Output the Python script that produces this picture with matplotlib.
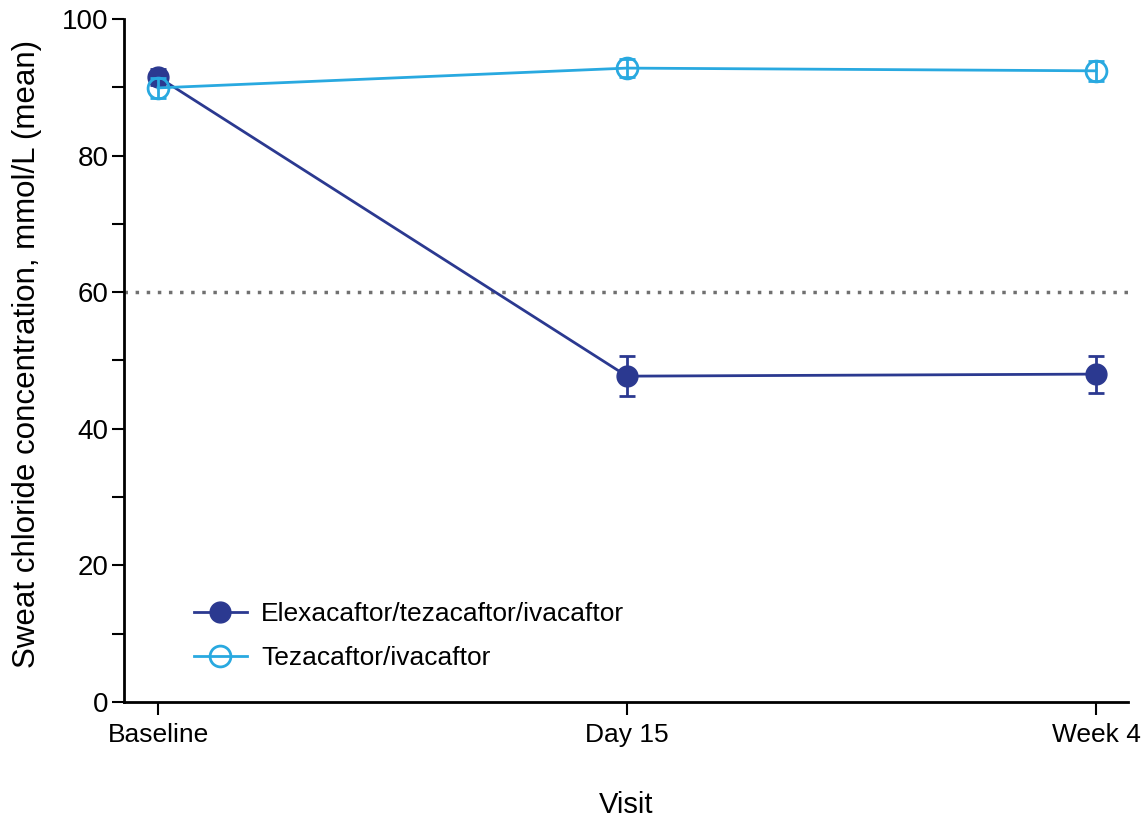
import matplotlib
matplotlib.use("Agg")
import matplotlib.pyplot as plt
from matplotlib.lines import Line2D

plt.rcParams['font.family'] = ['Liberation Sans', 'DejaVu Sans']

visits = ['Baseline', 'Day 15', 'Week 4']
eti_mean = [91.5, 47.7, 48.0]
eti_err = [1.2, 2.9, 2.7]
ti_mean = [89.9, 92.8, 92.4]
ti_err = [1.5, 1.3, 1.5]
threshold = 60

navy = '#2B3990'
sky = '#29A9E0'

fig = plt.figure(figsize=(11.42, 8.19), dpi=100)
ax = fig.add_axes([0.1086, 0.1429, 0.879, 0.834])

x = list(range(len(visits)))
ax.axhline(threshold, color='#707070', linestyle=(0, (1, 2.2)), linewidth=2.5, zorder=1)

ax.errorbar(x, eti_mean, yerr=eti_err, color=navy, marker='o', markersize=15,
            linewidth=2, capsize=6, capthick=2, elinewidth=2, zorder=3)
ax.errorbar(x, ti_mean, yerr=ti_err, color=sky, marker='o', markersize=15,
            markerfacecolor='none', markeredgewidth=2, linewidth=2, capsize=6,
            capthick=2, elinewidth=2, zorder=4)

ax.set_xlim(-0.0725, 2.068)
ax.set_ylim(0, 100)
ax.set_xticks(x)
ax.set_xticklabels(visits, fontsize=19)
ax.set_yticks(range(0, 101, 20))
ax.set_yticks(range(10, 100, 20), minor=True)
ax.tick_params(axis='y', labelsize=20, direction='out', length=9, width=1.5, pad=2)
ax.tick_params(axis='y', which='minor', direction='out', length=9, width=1.5)
ax.tick_params(axis='x', direction='out', length=9, width=1.5, pad=6)

for s in ['top', 'right']:
    ax.spines[s].set_visible(False)
for s in ['left', 'bottom']:
    ax.spines[s].set_linewidth(2)

ax.set_ylabel('Sweat chloride concentration, mmol/L (mean)', fontsize=22.5)
ax.yaxis.set_label_coords(-0.082, 0.51)
ax.set_xlabel('Visit', fontsize=21)
ax.xaxis.set_label_coords(0.5, -0.13)

handles = [
    Line2D([], [], color=navy, marker='o', markersize=15, linewidth=2),
    Line2D([], [], color=sky, marker='o', markersize=15, markerfacecolor='none',
           markeredgewidth=2, linewidth=2),
]
labels = ['Elexacaftor/tezacaftor/ivacaftor', 'Tezacaftor/ivacaftor']
ax.legend(handles, labels, loc='lower left', bbox_to_anchor=(0.046, 0.012),
          frameon=False, fontsize=19, handlelength=2.0, labelspacing=0.75,
          handletextpad=0.55)

fig.savefig('out.png', dpi=100)
